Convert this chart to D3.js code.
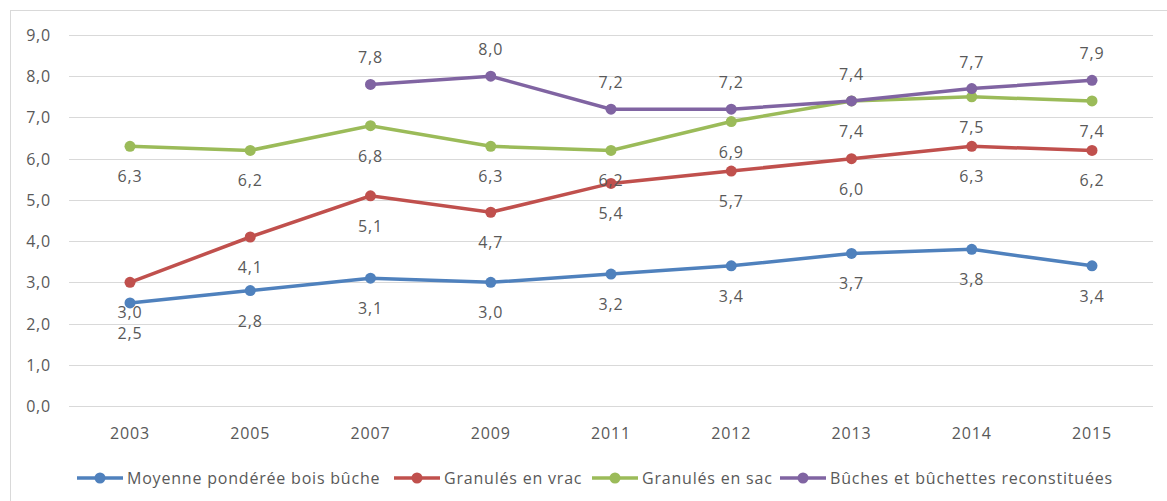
<!DOCTYPE html>
<html>
<head>
    <meta charset="utf-8">
    <title>prix bois</title>
    <script type="text/javascript" src="https://d3js.org/d3.v7.min.js"></script>
    <style>
      body { margin: 0; background: #fff; }
      text { font-family: "Open Sans", sans-serif; fill: #595959; font-size: 16px; letter-spacing: 0.8px; }
    </style>
</head>
<body>
<script type="text/javascript">
        var years = ["2003","2005","2007","2009","2011","2012","2013","2014","2015"]
        var yTicks = [0,1,2,3,4,5,6,7,8,9]
        var boisBuche = [2.5,2.8,3.1,3.0,3.2,3.4,3.7,3.8,3.4]
        var granulesVrac = [3.0,4.1,5.1,4.7,5.4,5.7,6.0,6.3,6.2]
        var granulesSac = [6.3,6.2,6.8,6.3,6.2,6.9,7.4,7.5,7.4]
        var buchesRecon = [null,null,7.8,8.0,7.2,7.2,7.4,7.7,7.9]
        var seriesNames = ["Moyenne pondérée bois bûche","Granulés en vrac","Granulés en sac","Bûches et bûchettes reconstituées"]

        var width = 1167
        var height = 501
        var fmt = function(v){ return d3.format(".1f")(v).replace(".", ",") }

        var series = [
            {name: seriesNames[0], values: boisBuche, color: "#4f81bd", below: true},
            {name: seriesNames[1], values: granulesVrac, color: "#c0504d", below: true},
            {name: seriesNames[2], values: granulesSac, color: "#9bbb59", below: true},
            {name: seriesNames[3], values: buchesRecon, color: "#8064a2", below: false}
        ]

        var svg = d3.select("body").append("svg").attr("width", width).attr("height", height)

        svg.append("rect").attr("x", 10.5).attr("y", 10.5).attr("width", 1170).attr("height", 500)
            .attr("fill", "none").attr("stroke", "#d9d9d9")

        var x = d3.scalePoint().domain(years).range([130, 1092])
        var y = d3.scaleLinear().domain([0, 9]).range([406, 35])

        // grid
        svg.selectAll(".grid").data(yTicks).enter().append("line")
            .attr("x1", 69).attr("x2", 1153)
            .attr("y1", function(d){ return Math.round(y(d)) + 0.5 })
            .attr("y2", function(d){ return Math.round(y(d)) + 0.5 })
            .attr("stroke", "#d9d9d9").attr("stroke-width", 1)

        svg.selectAll(".ylab").data(yTicks).enter().append("text")
            .attr("x", 51).attr("y", function(d){ return y(d) + 6 })
            .attr("text-anchor", "end")
            .text(function(d){ return fmt(d) })

        svg.selectAll(".xlab").data(years).enter().append("text")
            .attr("x", function(d){ return x(d) }).attr("y", 439)
            .attr("text-anchor", "middle")
            .text(function(d){ return d })

        var line = d3.line()
            .defined(function(d){ return d.v != null })
            .x(function(d){ return x(d.year) })
            .y(function(d){ return y(d.v) })

        series.forEach(function(s){
            var pts = years.map(function(yr, i){ return {year: yr, v: s.values[i]} })
            svg.append("path").datum(pts).attr("d", line)
                .attr("fill", "none").attr("stroke", s.color).attr("stroke-width", 3.5)
            var valid = pts.filter(function(d){ return d.v != null })
            svg.selectAll(null).data(valid).enter().append("circle")
                .attr("cx", function(d){ return x(d.year) })
                .attr("cy", function(d){ return y(d.v) })
                .attr("r", 5.5).attr("fill", s.color)
        })

        // data labels
        series.forEach(function(s){
            var pts = years.map(function(yr, i){ return {year: yr, v: s.values[i]} })
                .filter(function(d){ return d.v != null })
            svg.selectAll(null).data(pts).enter().append("text")
                .attr("x", function(d){ return x(d.year) })
                .attr("y", function(d){ return y(d.v) + (s.below ? 36 : -21) })
                .attr("text-anchor", "middle")
                .text(function(d){ return fmt(d.v) })
        })

        // legend
        var legX = [77, 394, 592, 780]
        series.forEach(function(s, i){
            var g = svg.append("g").attr("transform", "translate(" + legX[i] + ",478)")
            g.append("line").attr("x1", 0).attr("x2", 46).attr("y1", 0).attr("y2", 0)
                .attr("stroke", s.color).attr("stroke-width", 3.5)
            g.append("circle").attr("cx", 23).attr("cy", 0).attr("r", 5.5).attr("fill", s.color)
            g.append("text").attr("x", 50).attr("y", 6).text(s.name)
        })
</script>
</body>
</html>
